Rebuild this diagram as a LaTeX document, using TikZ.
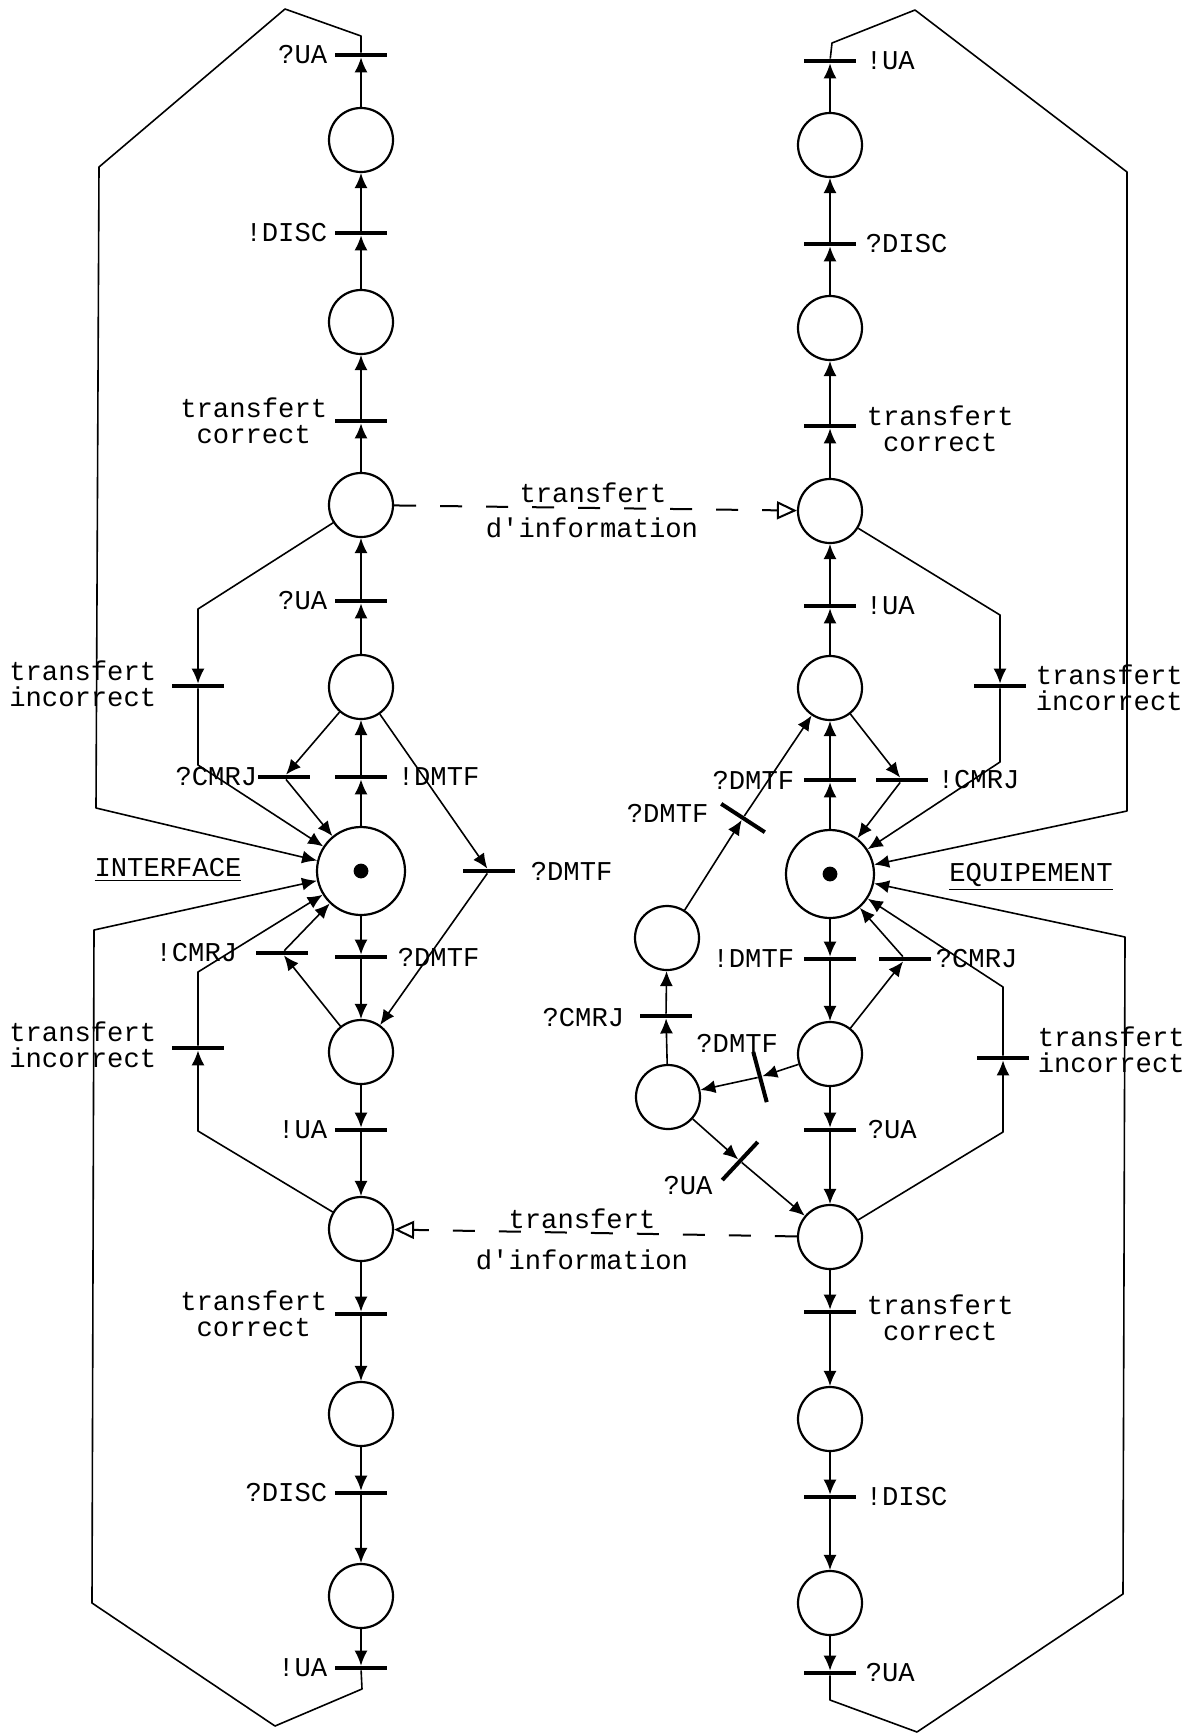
\documentclass[tikz,border=0pt]{standalone}
\usepackage{fontspec}
\setmainfont{Liberation Mono}
\usetikzlibrary{arrows.meta}
\tikzset{
  place/.style={circle,draw,line width=1.1pt,minimum size=32pt,inner sep=0pt},
  bigplace/.style={place,minimum size=44pt},
  tbar/.style={rectangle,fill,minimum width=26pt,minimum height=2pt,inner sep=0pt},
  flow/.style={line width=0.8pt,line join=round,-{Latex[length=7.5pt,width=6.5pt]}},
  xfer/.style={line width=1pt,dash pattern=on 11pt off 12pt,-{Triangle[open,length=10pt,width=9pt,line width=1pt]}},
  lab/.style={inner sep=0pt,align=center},
}
\begin{document}
\begin{tikzpicture}[x=0.5pt,y=-0.5pt,font=\fontsize{13.6}{13.2}\selectfont]
  \useasboundingbox (0,0) rectangle (1195,1735);
  \fill[white] (0,0) rectangle (1195,1735);
  % left net: INTERFACE
  \foreach \n/\y in {1/140,2/322,3/505,4/687,6/1052,7/1229,8/1414,9/1596}
    \node[place] (pL\n) at (361,\y) {};
  \node[bigplace] (pL5) at (361,871) {};
  \fill (pL5) circle (3.7pt);
  \foreach \n/\y in {1/55,2/233,3/421,4/601,5/777,6/957,7/1130,8/1314,9/1493,10/1668}
    \node[tbar] (tL\n) at (361,\y) {};
  \node[tbar] (tLi1) at (198,686) {};
  \node[tbar] (tLc1) at (284,777) {};
  \node[tbar] (tLd) at (489,871) {};
  \node[tbar] (tLc2) at (282,953) {};
  \node[tbar] (tLi2) at (198,1048) {};
  \coordinate (cL1) at (198,609);
  \coordinate (cL2) at (198,765);
  \coordinate (cL4) at (198,972);
  \coordinate (cL3) at (198,1131);
  \coordinate (oL1) at (361,36);
  \coordinate (oL2) at (285,9);
  \coordinate (oL3) at (99,167);
  \coordinate (oL4) at (96,808);
  \coordinate (oL5) at (94,930);
  \coordinate (oL6) at (92,1603);
  \coordinate (oL7) at (275,1726);
  \coordinate (oL8) at (362,1689);
  \foreach \a/\b in {pL1/tL1,tL2/pL1,pL2/tL2,tL3/pL2,pL3/tL3,tL4/pL3,pL4/tL4,tL5/pL4,pL5/tL5,
      pL5/tL6,tL6/pL6,pL6/tL7,tL7/pL7,pL7/tL8,tL8/pL8,pL8/tL9,tL9/pL9,pL9/tL10,
      pL4/tLc1,tLc1/pL5,pL4/tLd,tLd/pL6,pL6/tLc2,tLc2/pL5}
    \draw[flow] (\a) -- (\b);
  \draw[flow] (pL3) -- (cL1) -- (tLi1);
  \draw[flow] (tLi1) -- (cL2) -- (pL5);
  \draw[flow] (pL7) -- (cL3) -- (tLi2);
  \draw[flow] (tLi2) -- (cL4) -- (pL5);
  \draw[flow] (tL1) -- (oL1) -- (oL2) -- (oL3) -- (oL4) -- (pL5);
  \draw[flow] (tL10) -- (oL8) -- (oL7) -- (oL6) -- (oL5) -- (pL5);
  \node[lab,anchor=east] at ([xshift=-3.5pt]tL1.west) {?UA};
  \node[lab,anchor=east] at ([xshift=-3.5pt]tL2.west) {!DISC};
  \node[lab,anchor=east] at ([xshift=-3.5pt]tL3.west) {transfert\\correct};
  \node[lab,anchor=east] at ([xshift=-3.5pt]tL4.west) {?UA};
  \node[lab,anchor=west] at ([xshift=5pt]tL5.east) {!DMTF};
  \node[lab,anchor=west] at ([xshift=5pt]tL6.east) {?DMTF};
  \node[lab,anchor=east] at ([xshift=-3.5pt]tL7.west) {!UA};
  \node[lab,anchor=east] at ([xshift=-3.5pt]tL8.west) {transfert\\correct};
  \node[lab,anchor=east] at ([xshift=-3.5pt]tL9.west) {?DISC};
  \node[lab,anchor=east] at ([xshift=-3.5pt]tL10.west) {!UA};
  \node[lab,anchor=east] at ([xshift=-7.5pt,yshift=1pt]tLi1.west) {transfert\\incorrect};
  \node[lab,anchor=east] at ([xshift=-7.5pt,yshift=1.5pt]tLi2.west) {transfert\\incorrect};
  \node[lab,anchor=east] at (tLc1.west) {?CMRJ};
  \node[lab,anchor=east] at ([xshift=-9pt]tLc2.west) {!CMRJ};
  \node[lab,anchor=west] at ([xshift=7.5pt]tLd.east) {?DMTF};
  \node[lab] (lInt) at (168,870) {\underline{INTERFACE}};
  % right net: EQUIPEMENT
  \foreach \n/\y in {1/145,2/328,3/511,4/688,6/1054,7/1237,8/1419,9/1603}
    \node[place] (pR\n) at (830,\y) {};
  \node[bigplace] (pR5) at (830,874) {};
  \fill (pR5) circle (3.7pt);
  \foreach \n/\y in {1/61,2/244,3/426,4/606,5/780,6/959,7/1130,8/1312,9/1497,10/1673}
    \node[tbar] (tR\n) at (830,\y) {};
  \node[tbar] (tRi1) at (1000,686) {};
  \node[tbar] (tRc1) at (902,780) {};
  \node[tbar] (tRc2) at (905,959) {};
  \node[tbar] (tRi2) at (1003,1058) {};
  \node[place] (pA) at (667,938) {};
  \node[place] (pB) at (668,1097) {};
  \node[tbar] (tCy) at (666,1016) {};
  \node[tbar,rotate=-33] (tA) at (743,818) {};
  \node[tbar,rotate=-75] (tB) at (760,1077) {};
  \node[tbar,rotate=47] (tC) at (740,1161) {};
  \coordinate (cR1) at (1000,615);
  \coordinate (cR2) at (1000,762);
  \coordinate (cR4) at (1003,987);
  \coordinate (cR3) at (1003,1132);
  \coordinate (oR1) at (832,43);
  \coordinate (oR2) at (915,10);
  \coordinate (oR3) at (1127,172);
  \coordinate (oR4) at (1127,811);
  \coordinate (oR5) at (1125,937);
  \coordinate (oR6) at (1123,1594);
  \coordinate (oR7) at (917,1732);
  \coordinate (oR8) at (830,1700);
  \foreach \a/\b in {pR1/tR1,tR2/pR1,pR2/tR2,tR3/pR2,pR3/tR3,tR4/pR3,pR4/tR4,tR5/pR4,pR5/tR5,
      pR5/tR6,tR6/pR6,pR6/tR7,tR7/pR7,pR7/tR8,tR8/pR8,pR8/tR9,tR9/pR9,pR9/tR10,
      pR4/tRc1,tRc1/pR5,pR6/tRc2,tRc2/pR5,pB/tCy,tCy/pA,pA/tA,tA/pR4,pR6/tB,tB/pB,pB/tC,tC/pR7}
    \draw[flow] (\a) -- (\b);
  \draw[flow] (pR3) -- (cR1) -- (tRi1);
  \draw[flow] (tRi1) -- (cR2) -- (pR5);
  \draw[flow] (pR7) -- (cR3) -- (tRi2);
  \draw[flow] (tRi2) -- (cR4) -- (pR5);
  \draw[flow] (tR1) -- (oR1) -- (oR2) -- (oR3) -- (oR4) -- (pR5);
  \draw[flow] (tR10) -- (oR8) -- (oR7) -- (oR6) -- (oR5) -- (pR5);
  \node[lab,anchor=west] at ([xshift=4.5pt]tR1.east) {!UA};
  \node[lab,anchor=west] at ([xshift=4.5pt]tR2.east) {?DISC};
  \node[lab,anchor=west] at ([xshift=5pt,yshift=-1.5pt]tR3.east) {transfert\\correct};
  \node[lab,anchor=west] at ([xshift=4.5pt]tR4.east) {!UA};
  \node[lab,anchor=east] at ([xshift=-4.5pt]tR5.west) {?DMTF};
  \node[lab,anchor=east] at ([xshift=-4.5pt]tR6.west) {!DMTF};
  \node[lab,anchor=west] at ([xshift=5.5pt]tR7.east) {?UA};
  \node[lab,anchor=west] at ([xshift=5pt,yshift=-3pt]tR8.east) {transfert\\correct};
  \node[lab,anchor=west] at ([xshift=4.5pt]tR9.east) {!DISC};
  \node[lab,anchor=west] at ([xshift=4.5pt]tR10.east) {?UA};
  \node[lab,anchor=west] at ([xshift=4.5pt,yshift=-1pt]tRi1.east) {transfert\\incorrect};
  \node[lab,anchor=west] at ([xshift=4pt,yshift=4pt]tRi2.east) {transfert\\incorrect};
  \node[lab,anchor=west] at ([xshift=4.5pt]tRc1.east) {!CMRJ};
  \node[lab,anchor=west] at ([xshift=2pt]tRc2.east) {?CMRJ};
  \node[lab,anchor=east] at ([xshift=-7.5pt,yshift=-1pt]tCy.west) {?CMRJ};
  \node[lab,anchor=east] at ([xshift=-6pt,yshift=-5pt]tA.west) {?DMTF};
  \node[lab] at ([xshift=-8pt,yshift=4pt]tB.west) {?DMTF};
  \node[lab] at ([xshift=-17pt,yshift=-2.5pt]tC.west) {?UA};
  \node[lab] (lEqu) at (1031,877) {\underline{EQUIPEMENT}};
  % transfert d'information
  \draw[xfer] (pL3) -- (pR3);
  \node[lab] (lx1) at (593,493) {transfert};
  \node[lab] (lx2) at (592,528) {d\textquotesingle information};
  \draw[xfer] (pR7) -- (pL7);
  \node[lab] (lx3) at (582,1219) {transfert};
  \node[lab] (lx4) at (582,1260) {d\textquotesingle information};
\end{tikzpicture}
\end{document}
